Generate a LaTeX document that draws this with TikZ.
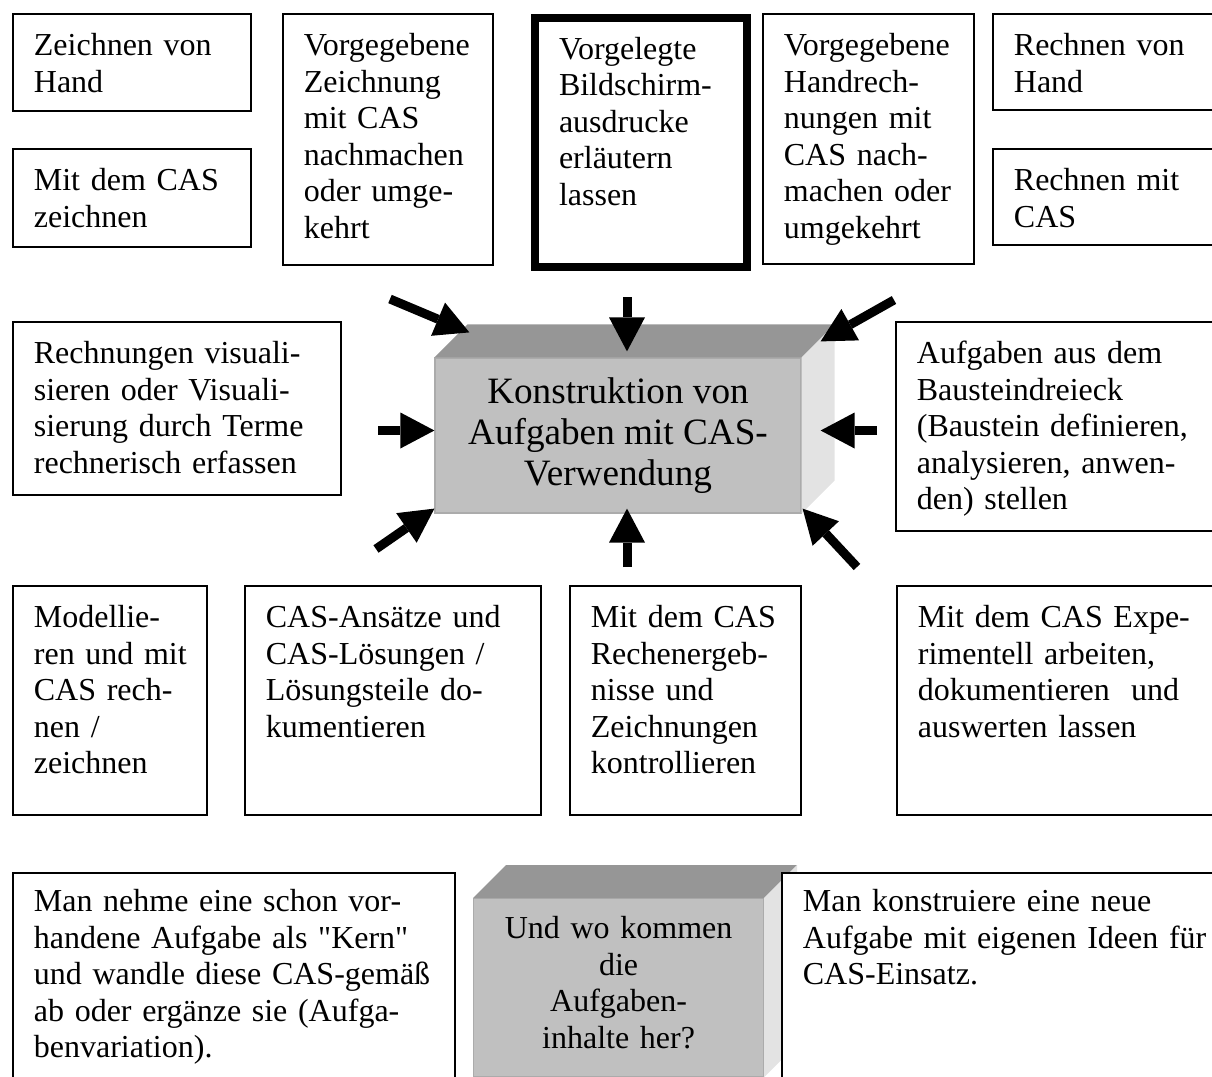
\documentclass[tikz,border=0pt]{standalone}
\usepackage{fontspec}
\setmainfont{Liberation Serif}
\newfontfamily\gerade{Liberation Serif}
\usetikzlibrary{shapes.geometric, arrows.meta}

\definecolor{vorne}{HTML}{C0C0C0}
\definecolor{oben}{HTML}{969696}
\definecolor{seite}{HTML}{E3E3E3}
\definecolor{rand}{HTML}{ABABAB}

\begin{document}
\begin{tikzpicture}[x=0.5pt, y=-0.5pt]
    % Define styles for blocks and arrows
    \tikzstyle{kasten} = [rectangle, draw, fill=white, line width=0.9pt, anchor=north west, align=left, inner xsep=10.5pt, inner ysep=10pt, text height=11pt, font=\fontsize{16}{18.25}\selectfont]
    \tikzstyle{dickkasten} = [kasten, line width=4pt, inner xsep=12pt, inner ysep=9.5pt]
    \tikzstyle{quader} = [rectangle, draw=rand, line width=0.6pt, fill=vorne, align=center]
    \tikzstyle{arrow} = [line width=4.5pt, -{Triangle[length=17pt, width=18pt, line width=0pt]}]

    \useasboundingbox (0,0) rectangle (1212,1077);

    % Nodes
    \node (handzeichnen) [kasten, text width=98pt, text depth=17.5pt] at (12,13) {Zeichnen von\\Hand};
    \node (caszeichnen) [kasten, text width=98pt, text depth=18pt] at (12,148) {Mit dem CAS\\zeichnen};
    \node (zeichnung) [kasten, text width=84pt, text depth=94.5pt] at (282,13) {Vorgegebene\\Zeichnung\\mit CAS\\nachmachen\\oder umge-\\kehrt};
    \node (ausdrucke) [dickkasten, text width=82pt, text depth=94.5pt] at (531,14) {Vorgelegte\\Bildschirm-\\ausdrucke\\erläutern\\lassen};
    \node (handrechnung) [kasten, text width=84.5pt, text depth=94pt] at (762,13) {Vorgegebene\\Handrech-\\nungen mit\\CAS nach-\\machen oder\\umgekehrt};
    \node (handrechnen) [kasten, text width=98pt, text depth=17pt] at (992,13) {Rechnen von\\Hand};
    \node (casrechnen) [kasten, text width=98pt, text depth=17pt] at (992,148) {Rechnen mit\\CAS};

    \node (visualisieren) [kasten, text width=143pt, text depth=55.5pt] at (12,321) {Rechnungen visuali-\\sieren oder Visuali-\\sierung durch Terme\\rechnerisch erfassen};
    \node (bausteine) [kasten, text width=146.5pt, text depth=73.5pt] at (895,321) {Aufgaben aus dem\\Bausteindreieck\\(Baustein definieren,\\analysieren, anwen-\\den) stellen};

    \node (kern) [quader, minimum width=183pt, minimum height=77.5pt, font=\fontsize{18.6}{20.5}\selectfont] at (618,435.5) {Konstruktion von\\Aufgaben mit CAS-\\Verwendung};
    \fill [oben] (kern.north west) -- ++(33,-33) -- ([shift={(33,-33)}]kern.north east) -- (kern.north east) -- cycle;
    \fill [seite] (kern.north east) -- ++(33,-33) -- ([shift={(33,-33)}]kern.south east) -- (kern.south east) -- cycle;

    \node (modellieren) [kasten, text width=76pt, text depth=83.5pt] at (12,585) {Modellie-\\\mbox{ren und mit}\\CAS rech-\\nen /\\zeichnen};
    \node (dokumentieren) [kasten, text width=127pt, text depth=83.5pt] at (244,585) {CAS-Ansätze und\\CAS-Lösungen /\\Lösungsteile do-\\kumentieren};
    \node (kontrollieren) [kasten, text width=94.5pt, text depth=83.5pt] at (569,585) {Mit dem CAS\\Rechenergeb-\\nisse und\\Zeichnungen\\kontrollieren};
    \node (experimentieren) [kasten, text width=146pt, text depth=83.5pt] at (896,585) {Mit dem CAS Expe-\\rimentell arbeiten,\\dokumentieren\ \ und\\auswerten lassen};

    \node (vorhanden) [kasten, text width=200pt, text height=9.5pt, text depth=84.5pt] at (12,872) {Man nehme eine schon vor-\\handene Aufgabe als {\gerade"}Kern{\gerade"}\\und wandle diese CAS-gemäß\\ab oder ergänze sie (Aufga-\\benvariation).};
    \node (frage) [quader, anchor=north west, inner xsep=9pt, inner ysep=9pt, text width=127pt, text height=11pt, text depth=60pt, font=\fontsize{16}{18.25}\selectfont] at (473,898) {Und wo kommen\\die\\Aufgaben-\\inhalte her?};
    \fill [oben] (frage.north west) -- ++(33,-33) -- ([shift={(33,-33)}]frage.north east) -- (frage.north east) -- cycle;
    \fill [seite] (frage.north east) -- ++(33,-33) -- ([shift={(33,-33)}]frage.south east) -- (frage.south east) -- cycle;
    \node (neu) [kasten, text width=203.5pt, text height=9.5pt, text depth=84.5pt] at (781,872) {Man konstruiere eine neue\\Aufgabe mit eigenen Ideen für\\CAS-Einsatz.};

    % Arrows
    \coordinate (startlo) at (390,299);
    \coordinate (starto) at (627,297);
    \coordinate (startro) at (894,300);
    \coordinate (startl) at (378,430.5);
    \coordinate (startr) at (877,430.5);
    \coordinate (startlu) at (376,549);
    \coordinate (startu) at (627,567);
    \coordinate (startru) at (857,567);

    \draw [arrow] (startlo) -- ([shift={(35,-25)}]kern.north west);
    \draw [arrow] (starto) -- ([shift={(9,-6)}]kern.north);
    \draw [arrow] (startro) -- ([shift={(19,-16)}]kern.north east);
    \draw [arrow] (startl) -- ([shift={(0,-5)}]kern.west);
    \draw [arrow] (startr) -- ([shift={(19,-5)}]kern.east);
    \draw [arrow] (startlu) -- ([shift={(0,-5)}]kern.south west);
    \draw [arrow] (startu) -- ([shift={(9,-5)}]kern.south);
    \draw [arrow] (startru) -- ([shift={(1,-5)}]kern.south east);

\end{tikzpicture}
\end{document}
